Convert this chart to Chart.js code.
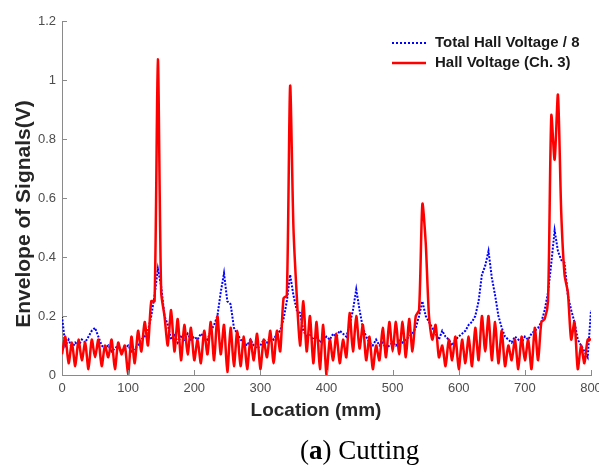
<!DOCTYPE html>
<html>
<head>
<meta charset="utf-8">
<script src="https://cdn.jsdelivr.net/npm/chart.js@4/dist/chart.umd.min.js"></script>
<style>
  html, body { margin: 0; padding: 0; background: #fff; }
  #wrap { width: 599px; height: 465px; }
</style>
</head>
<body>
<div id="wrap"><canvas id="chart" width="599" height="465"></canvas></div>
<script>
// sampling grid along the sample (mm)
const locs = Array.from({length: 161}, (_, i) => i * 5);

// Hall Voltage (Ch. 3)
const hallCh3 = [
  0.07, 0.13, 0.04, 0.11, 0.03, 0.12, 0.05, 0.11, 0.02, 0.12,
  0.06, 0.12, 0.03, 0.10, 0.06, 0.12, 0.02, 0.11, 0.07, 0.10,
  0.00, 0.13, 0.04, 0.15, 0.08, 0.18, 0.10, 0.25, 0.25, 1.07,
  0.28, 0.20, 0.10, 0.22, 0.08, 0.19, 0.05, 0.17, 0.07, 0.16,
  0.05, 0.12, 0.04, 0.15, 0.07, 0.18, 0.05, 0.20, 0.07, 0.17,
  0.01, 0.16, 0.03, 0.15, 0.03, 0.13, 0.02, 0.12, 0.05, 0.14,
  0.02, 0.12, 0.06, 0.15, 0.04, 0.15, 0.08, 0.26, 0.27, 0.98,
  0.50, 0.27, 0.10, 0.25, 0.08, 0.20, 0.04, 0.18, 0.02, 0.17,
  0.00, 0.12, 0.05, 0.14, 0.04, 0.12, 0.06, 0.21, 0.08, 0.20,
  0.09, 0.17, 0.05, 0.13, 0.02, 0.10, 0.05, 0.16, 0.06, 0.18,
  0.08, 0.18, 0.07, 0.18, 0.06, 0.19, 0.08, 0.20, 0.22, 0.58,
  0.45, 0.20, 0.12, 0.17, 0.06, 0.10, 0.03, 0.12, 0.05, 0.13,
  0.02, 0.12, 0.04, 0.13, 0.03, 0.16, 0.05, 0.20, 0.08, 0.20,
  0.05, 0.18, 0.04, 0.15, 0.03, 0.10, 0.05, 0.12, 0.02, 0.13,
  0.05, 0.12, 0.02, 0.16, 0.05, 0.18, 0.19, 0.25, 0.88, 0.73,
  0.95, 0.55, 0.34, 0.28, 0.12, 0.18, 0.02, 0.10, 0.04, 0.12,
  0.12
];

// Total Hall Voltage / 8
const hallTotal = [
  0.20, 0.10, 0.12, 0.09, 0.11, 0.10, 0.12, 0.11, 0.13, 0.15,
  0.16, 0.13, 0.10, 0.09, 0.10, 0.08, 0.09, 0.10, 0.08, 0.09,
  0.10, 0.08, 0.09, 0.10, 0.12, 0.13, 0.15, 0.20, 0.27, 0.36,
  0.30, 0.20, 0.17, 0.12, 0.14, 0.11, 0.13, 0.12, 0.14, 0.12,
  0.13, 0.12, 0.14, 0.13, 0.12, 0.15, 0.17, 0.20, 0.28, 0.345,
  0.25, 0.24, 0.16, 0.14, 0.12, 0.11, 0.10, 0.12, 0.10, 0.09,
  0.10, 0.12, 0.11, 0.13, 0.12, 0.14, 0.15, 0.19, 0.25, 0.34,
  0.27, 0.22, 0.21, 0.15, 0.13, 0.14, 0.12, 0.13, 0.11, 0.12,
  0.13, 0.12, 0.14, 0.13, 0.15, 0.14, 0.13, 0.17, 0.22, 0.29,
  0.22, 0.16, 0.13, 0.11, 0.10, 0.12, 0.10, 0.11, 0.09, 0.10,
  0.11, 0.10, 0.12, 0.11, 0.12, 0.13, 0.14, 0.16, 0.20, 0.25,
  0.20, 0.18, 0.16, 0.14, 0.12, 0.15, 0.13, 0.12, 0.10, 0.12,
  0.13, 0.14, 0.15, 0.17, 0.18, 0.20, 0.25, 0.34, 0.37, 0.42,
  0.33, 0.27, 0.20, 0.16, 0.13, 0.12, 0.11, 0.13, 0.12, 0.11,
  0.13, 0.12, 0.14, 0.15, 0.16, 0.18, 0.22, 0.28, 0.38, 0.49,
  0.42, 0.39, 0.38, 0.27, 0.22, 0.18, 0.12, 0.10, 0.08, 0.06,
  0.22
];

const xTicks = [0, 100, 200, 300, 400, 500, 600, 700, 800];
const yTicks = [0, 0.2, 0.4, 0.6, 0.8, 1, 1.2];

const AXIS_GRAY = '#8a8a8a';
const LABEL_GRAY = '#4d4d4d';

// inward tick marks, axis titles, legend and caption
const decorations = {
  id: 'decorations',
  afterDraw(chart) {
    const {ctx, chartArea: a, scales: {x, y}} = chart;
    ctx.save();
    ctx.strokeStyle = AXIS_GRAY;
    ctx.lineWidth = 1;
    xTicks.forEach(v => {
      const px = Math.round(x.getPixelForValue(v)) + 0.5;
      ctx.beginPath(); ctx.moveTo(px, a.bottom); ctx.lineTo(px, a.bottom - 5); ctx.stroke();
    });
    yTicks.forEach(v => {
      const py = Math.round(y.getPixelForValue(v)) + 0.5;
      ctx.beginPath(); ctx.moveTo(a.left, py); ctx.lineTo(a.left + 5, py); ctx.stroke();
    });

    // axis titles
    ctx.fillStyle = '#262626';
    ctx.font = 'bold 19px "Liberation Sans", Arial, sans-serif';
    ctx.textAlign = 'center';
    ctx.textBaseline = 'middle';
    ctx.fillText('Location (mm)', 316, 411);
    ctx.save();
    ctx.translate(24, 214);
    ctx.rotate(-Math.PI / 2);
    ctx.font = 'bold 21px "Liberation Sans", Arial, sans-serif';
    ctx.fillText('Envelope of Signals(V)', 0, 0);
    ctx.restore();

    // legend
    ctx.textAlign = 'left';
    ctx.font = 'bold 15px "Liberation Sans", Arial, sans-serif';
    ctx.fillStyle = '#1a1a1a';
    ctx.lineWidth = 2;
    ctx.strokeStyle = '#0000ff';
    ctx.setLineDash([2, 2]);
    ctx.beginPath(); ctx.moveTo(392, 43); ctx.lineTo(426, 43); ctx.stroke();
    ctx.setLineDash([]);
    ctx.strokeStyle = '#ff0000';
    ctx.lineWidth = 2.5;
    ctx.beginPath(); ctx.moveTo(392, 63); ctx.lineTo(426, 63); ctx.stroke();
    ctx.fillText('Total Hall Voltage / 8', 435, 43);
    ctx.fillText('Hall Voltage (Ch. 3)', 435, 63);

    // caption
    ctx.fillStyle = '#000';
    ctx.textBaseline = 'alphabetic';
    const serif = '"Liberation Serif", "DejaVu Serif", serif';
    ctx.font = '27px ' + serif;
    let cx = 300;
    ctx.fillText('(', cx, 459); cx += ctx.measureText('(').width;
    ctx.font = 'bold 27px ' + serif;
    ctx.fillText('a', cx, 459); cx += ctx.measureText('a').width;
    ctx.font = '27px ' + serif;
    ctx.fillText(') Cutting', cx, 459);
    ctx.restore();
  }
};

new Chart(document.getElementById('chart'), {
  type: 'line',
  data: {
    datasets: [
      {
        label: 'Hall Voltage (Ch. 3)',
        data: locs.map((v, i) => ({x: v, y: hallCh3[i]})),
        borderColor: '#ff0000',
        borderWidth: 2.5,
        pointRadius: 0,
        tension: 0.25,
        order: 0
      },
      {
        label: 'Total Hall Voltage / 8',
        data: locs.map((v, i) => ({x: v, y: hallTotal[i]})),
        borderColor: '#0000ff',
        borderWidth: 2,
        borderDash: [2, 1.5],
        pointRadius: 0,
        tension: 0,
        order: 1
      }
    ]
  },
  options: {
    responsive: false,
    animation: false,
    layout: {padding: {top: 21, right: 8, left: 0, bottom: 0}},
    plugins: {
      legend: {display: false},
      tooltip: {enabled: false}
    },
    scales: {
      x: {
        type: 'linear',
        min: 0,
        max: 800,
        afterBuildTicks: s => { s.ticks = xTicks.map(v => ({value: v})); },
        afterFit: s => { s.height = 90; s.paddingLeft = 0; s.paddingRight = 0; },
        ticks: {
          color: LABEL_GRAY,
          font: {size: 13, family: '"Liberation Sans", Arial, sans-serif'},
          padding: 6,
          maxRotation: 0,
          callback: v => String(v)
        },
        grid: {drawOnChartArea: false, drawTicks: false},
        border: {display: true, color: AXIS_GRAY, width: 1}
      },
      y: {
        min: 0,
        max: 1.2,
        afterBuildTicks: s => { s.ticks = yTicks.map(v => ({value: v})); },
        afterFit: s => { s.width = 62; s.paddingTop = 0; s.paddingBottom = 0; },
        ticks: {
          color: LABEL_GRAY,
          font: {size: 13, family: '"Liberation Sans", Arial, sans-serif'},
          padding: 6,
          callback: v => String(+v.toFixed(1))
        },
        grid: {drawOnChartArea: false, drawTicks: false},
        border: {display: true, color: AXIS_GRAY, width: 1}
      }
    }
  },
  plugins: [decorations]
});
</script>
</body>
</html>
